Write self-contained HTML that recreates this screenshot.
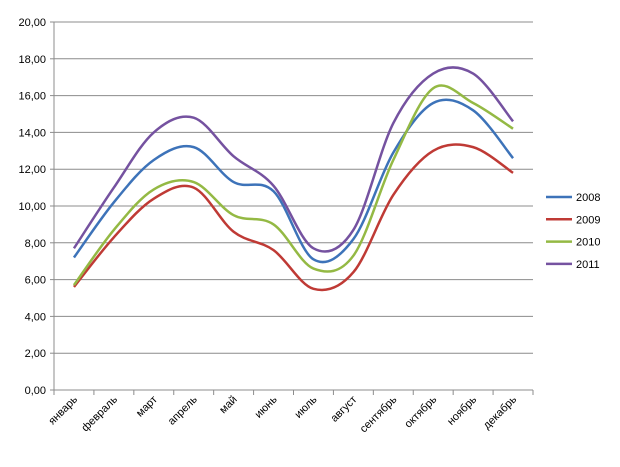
<!DOCTYPE html>
<html><head><meta charset="utf-8"><style>
body{margin:0;background:#fff;}
svg{display:block;font-family:"Liberation Sans","DejaVu Sans",sans-serif;}
</style></head><body>
<svg id="chart" width="620" height="467" viewBox="0 0 620 467" xmlns="http://www.w3.org/2000/svg">
<g id="grid"></g>
<g id="yaxis"></g>
<g id="xaxis"></g>
<g id="series"></g>
<g id="legend"></g>
</svg>
<script>
const categories = ["январь","февраль","март","апрель","май","июнь","июль","август","сентябрь","октябрь","ноябрь","декабрь"];
const seriesNames = ["2008","2009","2010","2011"];
const s2008 = [7.2,10.2,12.5,13.2,11.3,10.8,7.1,8.2,12.9,15.6,15.2,12.6];
const s2009 = [5.6,8.3,10.4,11.0,8.6,7.6,5.5,6.4,10.6,13.0,13.2,11.8];
const s2010 = [5.7,8.7,10.9,11.3,9.5,9.0,6.6,7.3,12.5,16.4,15.6,14.2];
const s2011 = [7.7,11.0,14.0,14.8,12.7,11.1,7.7,8.7,14.5,17.2,17.2,14.6];
const yTicks = [0,2,4,6,8,10,12,14,16,18,20];
const colors = ["#3d73b9","#bf3a35","#94b944","#7552a0"];

const NS="http://www.w3.org/2000/svg";
const X0=54,X1=533,Y0=390,Y1=22;
const cw=(X1-X0)/categories.length;
const xs=i=>X0+cw*(i+0.5);
const ys=v=>Y0-(v/20)*(Y0-Y1);
function mk(tag,attrs,parent){const e=document.createElementNS(NS,tag);for(const k in attrs)e.setAttribute(k,attrs[k]);parent.appendChild(e);return e;}
const grid=document.getElementById('grid'),yax=document.getElementById('yaxis'),xax=document.getElementById('xaxis'),ser=document.getElementById('series'),leg=document.getElementById('legend');

yTicks.forEach(t=>{
  const y=ys(t);
  if(t>0){const g=mk('line',{x1:X0,x2:X1,y1:y,y2:y,stroke:'#8c8c8c','stroke-width':1},grid);
  
  }
  mk('line',{x1:X0-4,x2:X0,y1:y,y2:y,stroke:'#8c8c8c'},yax);
  const tx=mk('text',{x:X0-8,y:y+4,'text-anchor':'end','font-size':11,fill:'#000'},yax);
  tx.textContent=t.toFixed(2).replace('.',',');
  
  
});
mk('line',{x1:X0,x2:X0,y1:Y1,y2:Y0,stroke:'#8c8c8c'},yax);
mk('line',{x1:X0,x2:X1,y1:Y0,y2:Y0,stroke:'#8c8c8c'},xax);
for(let i=0;i<=categories.length;i++){const x=X0+cw*i;mk('line',{x1:x,x2:x,y1:Y0,y2:Y0+5,stroke:'#8c8c8c'},xax);}
categories.forEach((c,i)=>{
  const x=xs(i)+4,y=Y0+10;
  const t=mk('text',{x:x,y:y,'text-anchor':'end','font-size':11,fill:'#000',transform:`rotate(-45 ${x} ${y})`},xax);
  t.textContent=c;
  
  
});

function path(vals){
  const p=vals.map((v,i)=>[xs(i),ys(v)]);
  let d=`M${p[0][0]},${p[0][1]}`;
  for(let i=0;i<p.length-1;i++){
    const p0=p[Math.max(i-1,0)],p1=p[i],p2=p[i+1],p3=p[Math.min(i+2,p.length-1)];
    const k=1/6;
    d+=` C${p1[0]+(p2[0]-p0[0])*k},${p1[1]+(p2[1]-p0[1])*k} ${p2[0]-(p3[0]-p1[0])*k},${p2[1]-(p3[1]-p1[1])*k} ${p2[0]},${p2[1]}`;
  }
  return d;
}
[s2008,s2009,s2010,s2011].forEach((vals,si)=>{
  const pth=mk('path',{d:path(vals),fill:'none',stroke:colors[si],'stroke-width':2.5,'stroke-linejoin':'round'},ser);
  
  
  const y=197+si*22.3;
  const g=mk('g',{},leg);
  
  
  mk('line',{x1:546,x2:572,y1:y,y2:y,stroke:colors[si],'stroke-width':2.5},g);
  const t=mk('text',{x:576,y:y+4,'font-size':11,fill:'#000'},g);
  t.textContent=seriesNames[si];
});
</script>
</body></html>
